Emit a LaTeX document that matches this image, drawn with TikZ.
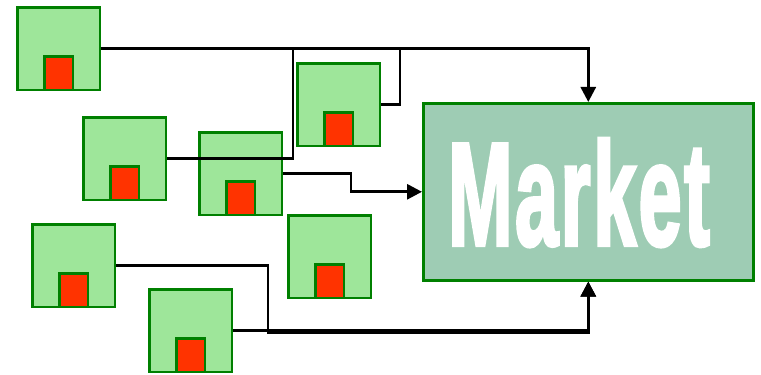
\documentclass[tikz,border=0pt]{standalone}
\usepackage{fontspec}
\newfontfamily\marketfont[BoldFeatures={FakeBold=3},LetterSpace=3]{Liberation Sans}
\usetikzlibrary{arrows.meta}
\definecolor{firmgreen}{RGB}{158,230,154}
\definecolor{edgegreen}{RGB}{0,128,0}
\definecolor{shopred}{RGB}{255,51,0}
\definecolor{marketgreen}{RGB}{158,204,180}

\begin{document}
\begin{tikzpicture}[x=0.03cm,y=-0.03cm,
  firm/.style={draw=edgegreen,fill=firmgreen,line width=2.4pt,minimum size=2.48cm,inner sep=0pt,anchor=north west},
  shop/.style={draw=edgegreen,fill=shopred,line width=2.4pt,minimum width=0.86cm,minimum height=1.0cm,inner sep=0pt,anchor=south},
  market/.style={draw=edgegreen,fill=marketgreen,line width=2.2pt,minimum width=9.9cm,minimum height=5.31cm,inner sep=0pt,anchor=north west},
  wire/.style={line width=2.4pt},
  toarrow/.style={wire,-{Triangle[width=0.45cm,length=0.45cm]}}]
  \useasboundingbox (0,0) rectangle (761,375);

  % firms
  \node[firm] (f1) at (16,6) {};
  \node[firm] (f2) at (82,116) {};
  \node[firm] (f3) at (198,131) {};
  \node[firm] (f4) at (296,62) {};
  \node[firm] (f5) at (287,214) {};
  \node[firm] (f6) at (31,223) {};
  \node[firm] (f7) at (148,288) {};
  \foreach \i in {1,...,7}
    \node[shop] (s\i) at (f\i.south) {};

  % market
  \node[market] (mkt) at (422,102) {};
  \node[anchor=base,xscale=0.53,text=white,font=\marketfont\bfseries\fontsize{125}{125}\selectfont] (mktname) at (579,245) {Market};

  % links
  \coordinate (j2) at (293,0);
  \coordinate (j3) at (351,0);
  \coordinate (j4) at (400,0);
  \coordinate (j6) at (268,333);
  \draw[toarrow] (f1.east) -| (mkt.north);
  \draw[wire] (f2.east) -| (j2 |- f1.east);
  \draw[wire] (f4.east) -| (j4 |- f1.east);
  \draw[toarrow] (f3.east) -| (j3 |- mkt.west) -- (mkt.west);
  \draw[toarrow] (f6.east) -| (j6) -| (mkt.south);
  \draw[toarrow] (f7.east) -| (mkt.south);
\end{tikzpicture}
\end{document}
